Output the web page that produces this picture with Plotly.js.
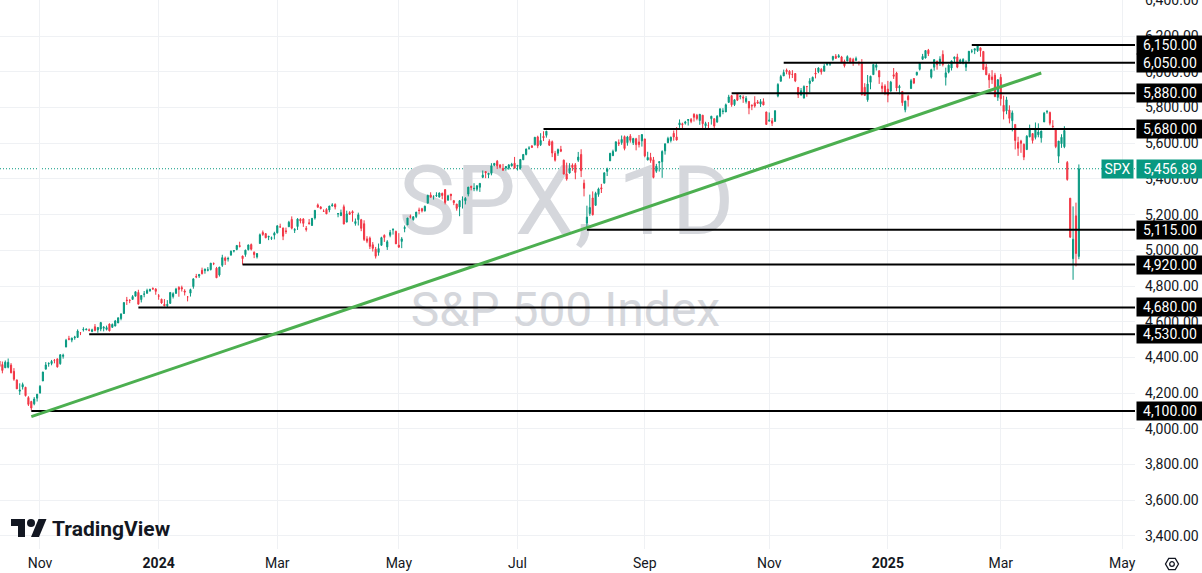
<!DOCTYPE html>
<html><head><meta charset="utf-8">
<script src="https://cdn.plot.ly/plotly-3.0.1.min.js"></script>
<style>html,body{margin:0;padding:0;background:#fff;overflow:hidden}#chart{width:1202px;height:573px}</style>
</head><body><div id="chart"></div>
<script>
// Daily SPX candles [open, high, low, close], one array per month (trading days in order)
const oct2023 = [[4366,4378,4345,4376],[4380,4386,4325,4349],[4360,4377,4311,4327],[4342,4383,4342,4373],[4345,4394,4339,4373],[4357,4368,4311,4314],[4322,4340,4269,4278],[4274,4276,4223,4224],[4211,4255,4190,4217],[4235,4259,4220,4248],[4233,4235,4181,4186],[4175,4183,4128,4137],[4153,4157,4104,4117],[4140,4178,4132,4167],[4172,4194,4153,4194]];
const nov2023 = [[4201,4245,4197,4238],[4268,4320,4268,4318],[4334,4374,4334,4358],[4364,4373,4348,4366],[4366,4386,4356,4378],[4384,4391,4367,4383],[4392,4393,4343,4347],[4365,4418,4359,4415],[4406,4421,4393,4412],[4458,4504,4458,4496],[4505,4521,4496,4502],[4497,4511,4485,4508],[4510,4521,4499,4514],[4512,4557,4510,4548],[4538,4542,4525,4538],[4554,4569,4545,4557],[4555,4560,4552,4559],[4555,4562,4546,4551],[4545,4561,4541,4555],[4572,4587,4546,4551],[4554,4569,4538,4568]];
const dec2023 = [[4559,4599,4547,4595],[4564,4575,4546,4569],[4557,4578,4551,4567],[4587,4590,4546,4549],[4569,4590,4565,4585],[4576,4610,4574,4604],[4593,4623,4593,4622],[4618,4644,4608,4644],[4646,4709,4644,4707],[4721,4739,4694,4719],[4720,4726,4704,4719],[4725,4749,4725,4741],[4743,4768,4743,4768],[4764,4779,4698,4698],[4724,4748,4708,4747],[4754,4772,4737,4755],[4759,4785,4758,4775],[4773,4785,4768,4781],[4786,4793,4780,4783],[4783,4788,4751,4770]];
const jan2024 = [[4745,4755,4723,4743],[4726,4729,4700,4705],[4698,4727,4687,4689],[4690,4721,4682,4697],[4703,4764,4700,4764],[4741,4765,4730,4757],[4759,4790,4756,4783],[4792,4799,4740,4781],[4791,4802,4769,4784],[4772,4782,4747,4766],[4739,4744,4714,4739],[4760,4785,4741,4780],[4797,4842,4785,4840],[4853,4868,4844,4851],[4856,4866,4845,4865],[4888,4903,4865,4869],[4886,4898,4869,4894],[4888,4906,4882,4891],[4892,4929,4887,4928],[4926,4932,4917,4925],[4900,4907,4845,4846]];
const feb2024 = [[4862,4907,4853,4906],[4916,4975,4907,4959],[4957,4965,4918,4943],[4951,4964,4937,4954],[4974,4999,4969,4995],[4996,5000,4988,4998],[5005,5030,5000,5027],[5026,5048,5016,5022],[4968,4970,4920,4953],[4976,5003,4964,5001],[5004,5032,4999,5030],[5032,5038,4999,5006],[4989,4994,4956,4976],[4963,4984,4954,4982],[5038,5094,5038,5087],[5100,5111,5081,5089],[5093,5097,5068,5070],[5074,5081,5057,5078],[5067,5077,5058,5070],[5085,5104,5061,5096]];
const mar2024 = [[5098,5140,5094,5137],[5131,5149,5127,5131],[5125,5127,5057,5079],[5109,5127,5092,5105],[5132,5165,5131,5157],[5173,5190,5117,5124],[5112,5124,5097,5117],[5133,5180,5114,5175],[5174,5180,5151,5165],[5175,5180,5131,5151],[5123,5136,5105,5117],[5154,5175,5145,5149],[5139,5180,5138,5179],[5181,5225,5172,5224],[5254,5262,5240,5241],[5243,5247,5229,5234],[5219,5229,5216,5218],[5229,5236,5203,5204],[5226,5249,5213,5248],[5249,5264,5245,5254]];
const apr2024 = [[5257,5263,5229,5243],[5204,5208,5185,5205],[5194,5228,5194,5211],[5244,5256,5146,5147],[5158,5222,5157,5204],[5211,5219,5198,5202],[5217,5224,5160,5209],[5150,5178,5138,5161],[5172,5211,5139,5199],[5171,5176,5107,5123],[5149,5168,5052,5061],[5064,5079,5040,5051],[5068,5077,5007,5022],[5031,5046,4993,5011],[5006,5019,4954,4967],[4988,5038,4970,5010],[5028,5076,5027,5071],[5084,5089,5047,5072],[5019,5057,5002,5048],[5084,5114,5073,5100],[5114,5124,5088,5116],[5106,5110,5036,5036]];
const may2024 = [[5029,5096,5013,5018],[5050,5074,5012,5064],[5122,5139,5101,5128],[5142,5181,5142,5181],[5188,5200,5178,5187],[5172,5191,5166,5188],[5189,5215,5180,5214],[5226,5239,5202,5223],[5233,5238,5212,5221],[5221,5250,5217,5247],[5264,5311,5263,5308],[5310,5325,5297,5297],[5303,5305,5284,5303],[5305,5325,5299,5308],[5298,5324,5296,5321],[5319,5323,5286,5307],[5340,5341,5257,5268],[5281,5311,5278,5305],[5315,5315,5280,5306],[5278,5282,5253,5267],[5259,5260,5222,5235],[5243,5281,5191,5278]];
const jun2024 = [[5283,5302,5234,5283],[5278,5298,5257,5291],[5315,5355,5302,5354],[5358,5362,5336,5353],[5344,5376,5331,5347],[5342,5365,5331,5361],[5353,5375,5327,5375],[5409,5447,5404,5421],[5441,5441,5404,5434],[5424,5432,5404,5432],[5431,5488,5420,5473],[5477,5487,5471,5487],[5499,5506,5455,5473],[5479,5479,5458,5465],[5459,5484,5447,5448],[5461,5472,5446,5469],[5460,5483,5451,5478],[5473,5490,5469,5483],[5488,5523,5460,5460]];
const jul2024 = [[5471,5479,5447,5475],[5461,5510,5452,5509],[5507,5539,5507,5537],[5537,5570,5532,5567],[5572,5583,5563,5572],[5584,5590,5574,5577],[5591,5635,5587,5633],[5635,5642,5572,5585],[5591,5656,5584,5615],[5638,5667,5612,5631],[5644,5669,5631,5667],[5611,5622,5584,5589],[5608,5615,5522,5545],[5543,5557,5497,5505],[5544,5570,5529,5564],[5565,5585,5550,5555],[5505,5508,5425,5427],[5428,5491,5390,5399],[5433,5488,5430,5459],[5477,5487,5445,5464],[5479,5489,5398,5436],[5505,5551,5495,5522]];
const aug2024 = [[5537,5566,5410,5446],[5376,5396,5302,5347],[5152,5250,5120,5186],[5206,5312,5193,5240],[5293,5330,5195,5199],[5252,5328,5250,5319],[5313,5351,5300,5344],[5350,5372,5321,5344],[5376,5436,5376,5434],[5442,5463,5416,5455],[5501,5546,5501,5543],[5530,5564,5528,5554],[5557,5608,5551,5608],[5603,5621,5584,5597],[5603,5643,5591,5621],[5637,5643,5560,5570],[5603,5641,5586,5635],[5639,5651,5603,5616],[5603,5630,5590,5626],[5625,5630,5560,5592],[5607,5646,5576,5592],[5613,5651,5581,5648]];
const sep2024 = [[5624,5624,5521,5529],[5506,5552,5504,5520],[5520,5546,5490,5503],[5507,5523,5403,5408],[5443,5484,5434,5471],[5491,5497,5441,5496],[5496,5560,5406,5554],[5557,5600,5536,5596],[5603,5636,5600,5626],[5615,5637,5604,5633],[5655,5671,5614,5635],[5635,5690,5615,5618],[5702,5733,5686,5714],[5709,5715,5674,5703],[5712,5725,5704,5718],[5728,5735,5699,5732],[5733,5741,5712,5722],[5762,5767,5721,5745],[5756,5764,5728,5738],[5727,5763,5703,5762]];
const oct2024 = [[5757,5757,5681,5709],[5698,5720,5679,5710],[5699,5718,5675,5699],[5737,5753,5704,5751],[5737,5739,5683,5696],[5719,5757,5714,5751],[5751,5796,5745,5792],[5778,5796,5762,5780],[5775,5822,5775,5815],[5829,5871,5825,5859],[5866,5870,5804,5815],[5816,5846,5808,5843],[5875,5879,5836,5841],[5860,5866,5846,5865],[5858,5868,5826,5853],[5833,5864,5822,5851],[5834,5835,5762,5797],[5813,5817,5785,5809],[5826,5863,5799,5808],[5831,5842,5823,5824],[5819,5847,5803,5833],[5833,5851,5813,5814],[5775,5776,5703,5705]];
const nov2024 = [[5723,5772,5723,5729],[5725,5741,5696,5712],[5722,5783,5722,5782],[5864,5936,5857,5929],[5947,5983,5945,5973],[5977,6012,5976,5996],[6009,6018,5986,6001],[6003,6009,5962,5984],[5986,6009,5965,5985],[5990,5993,5942,5949],[5912,5915,5853,5871],[5870,5909,5866,5894],[5853,5924,5850,5917],[5918,5920,5860,5917],[5934,5964,5885,5949],[5948,5973,5944,5969],[5993,6020,5963,5987],[6000,6025,5992,6021],[6014,6020,5984,5999],[6003,6044,6003,6032]];
const dec2024 = [[6040,6053,6034,6047],[6042,6052,6033,6050],[6069,6089,6061,6086],[6087,6099,6075,6075],[6082,6099,6080,6090],[6083,6089,6048,6053],[6058,6068,6024,6034],[6060,6092,6060,6085],[6075,6079,6050,6051],[6069,6078,6033,6051],[6064,6085,6059,6074],[6053,6058,6035,6051],[6047,6071,5867,5872],[5913,5936,5866,5867],[5843,5982,5832,5931],[5941,5978,5902,5975],[5984,6041,5982,6041],[6025,6050,6007,6037],[6006,6006,5932,5971],[5920,5941,5880,5907],[5920,5930,5869,5882]];
const jan2025 = [[5903,5949,5829,5869],[5892,5949,5888,5942],[5983,6021,5960,5975],[5993,6000,5891,5909],[5910,5927,5874,5918],[5890,5890,5809,5827],[5787,5837,5773,5836],[5862,5871,5805,5843],[5906,5960,5906,5950],[5962,5965,5931,5937],[5983,6000,5978,5997],[6014,6052,6007,6049],[6070,6100,6066,6086],[6077,6119,6075,6119],[6121,6128,6088,6101],[5970,6017,5962,6012],[6026,6070,6006,6068],[6058,6063,6012,6039],[6050,6087,6033,6071],[6097,6120,6030,6041]];
const feb2025 = [[5969,6023,5923,5994],[5998,6042,5991,6037],[6021,6062,6007,6061],[6073,6084,6051,6083],[6083,6101,6020,6026],[6048,6073,6048,6066],[6049,6076,6042,6069],[6026,6064,6004,6052],[6060,6116,6052,6115],[6115,6127,6104,6115],[6121,6129,6099,6129],[6118,6147,6111,6144],[6134,6134,6084,6118],[6114,6115,6009,6013],[6027,6044,5983,5983],[5982,5992,5908,5955],[5971,6009,5932,5956],[5981,5994,5858,5861],[5857,5959,5837,5955]];
const mar2025 = [[5969,5987,5810,5849],[5812,5866,5733,5778],[5781,5860,5762,5843],[5786,5812,5711,5739],[5726,5783,5666,5770],[5705,5705,5565,5615],[5604,5636,5529,5572],[5612,5619,5546,5599],[5594,5598,5505,5522],[5564,5645,5564,5639],[5636,5704,5633,5675],[5654,5655,5598,5615],[5632,5716,5621,5675],[5647,5711,5633,5663],[5630,5670,5603,5668],[5719,5775,5719,5768],[5775,5786,5765,5777],[5772,5777,5700,5712],[5696,5729,5678,5693],[5679,5679,5572,5581],[5527,5612,5489,5612]];
const apr2025 = [[5597,5650,5574,5633],[5580,5695,5572,5671],[5492,5500,5390,5397],[5292,5292,5069,5074],[4953,5246,4835,5062],[5193,5267,4910,4982],[4966,5481,4950,5456.89]];

const months = [oct2023,nov2023,dec2023,jan2024,feb2024,mar2024,apr2024,may2024,jun2024,jul2024,aug2024,sep2024,oct2024,nov2024,dec2024,jan2025,feb2025,mar2025,apr2025];
const firstSession = '2023-10-11';
const holidays = ['2023-11-23','2023-12-25','2024-01-01','2024-01-15','2024-02-19','2024-03-29','2024-05-27','2024-06-19','2024-07-04','2024-09-02','2024-11-28','2024-12-25','2025-01-01','2025-01-09','2025-01-20','2025-02-17','2025-04-18'];

const tickMonths = ['2023-11','2024-01','2024-03','2024-05','2024-07','2024-09','2024-11','2025-01','2025-03','2025-05'];
const tickLabels = ['Nov','<b>2024</b>','Mar','May','Jul','Sep','Nov','<b>2025</b>','Mar','May'];

const levelPrices = [6150,6050,5880,5680,5115,4920,4680,4530,4100];
const levelFrom = ['2025-02-14','2024-11-08','2024-10-15','2024-07-15','2024-08-05','2024-02-13','2023-12-20','2023-11-27','2023-10-27'];
const trendDates = ['2023-10-27','2025-03-21'];
const trendPrices = [4068,5993];

const symbol = 'SPX';
const lastPrice = 5456.89;
const watermark = ['SPX, 1D','S&P 500 Index'];

// ---- build series ----
const rows = [].concat(...months);
const open = rows.map(r=>r[0]), high = rows.map(r=>r[1]), low = rows.map(r=>r[2]), close = rows.map(r=>r[3]);

function sessions(start, n){
  const out=[]; const d=new Date(start+'T00:00:00Z');
  while(out.length<n){
    const dow=d.getUTCDay(); const s=d.toISOString().slice(0,10);
    if(dow!==0 && dow!==6 && !holidays.includes(s)) out.push(s);
    d.setUTCDate(d.getUTCDate()+1);
  }
  return out;
}
const days = sessions(firstSession, rows.length + 30);
const idx = s => days.indexOf(s);
const xs = rows.map((r,i)=>i);
const tickvals = tickMonths.map(m => days.findIndex(d=>d.startsWith(m)));

// ---- geometry ----
const W=1202, H=573, mR=67, mB=24, plotW=W-mR, plotH=H-mB;
const xr=[1.18, 393.4], yr=[3327, 6402];
const px2x = px => xr[0] + px/plotW*(xr[1]-xr[0]);
const py2y = py => yr[1] - py/plotH*(yr[1]-yr[0]);
const pp = (px,py) => [(px/plotW).toFixed(5), ((plotH-py)/plotH).toFixed(5)];

const green='#089981', red='#F23645', ink='#131722';
const font='Roboto, "Liberation Sans", sans-serif';
const fmt = v => v.toLocaleString('en-US',{minimumFractionDigits:2, maximumFractionDigits:2});

const traces = [
  {type:'scatter', mode:'text', x:[px2x(566.5), px2x(565.5)], y:[py2y(210), py2y(314)],
   text:watermark, textposition:'middle center', hoverinfo:'skip', showlegend:false,
   textfont:{family:font, size:[96,48], color:'#d5d7dc'}, xaxis:'x', yaxis:'y'},
  {type:'candlestick', x:xs, open, high, low, close, xaxis:'x', yaxis:'y2',
   increasing:{line:{color:green, width:1}, fillcolor:green},
   decreasing:{line:{color:red, width:1}, fillcolor:red},
   whiskerwidth:0, hoverinfo:'skip', showlegend:false}
];

const shapes = [];
shapes.push({type:'line', xref:'x', yref:'y2', x0:xr[0], x1:xr[1], y0:lastPrice, y1:lastPrice,
  line:{color:green, width:1, dash:'1px,2px'}, layer:'below'});
levelPrices.forEach((p,i)=>{
  shapes.push({type:'line', xref:'x', yref:'y2', x0:idx(levelFrom[i]), x1:xr[1], y0:p, y1:p,
    line:{color:'#000', width:2}, layer:'above'});
});
shapes.push({type:'line', xref:'x', yref:'y2', x0:idx(trendDates[0]), y0:trendPrices[0], x1:idx(trendDates[1]), y1:trendPrices[1],
  line:{color:'#4caf50', width:3}, layer:'above'});

// TradingView logo
function pathPx(pts){ return 'M' + pts.map(p=>pp(p[0],p[1]).join(',')).join(' L') + ' Z'; }
shapes.push({type:'path', xref:'paper', yref:'paper', path:pathPx([[25,537],[18,537],[18,526],[11,526],[11,519],[25,519]]), fillcolor:ink, line:{width:0}});
shapes.push({type:'path', xref:'paper', yref:'paper', path:pathPx([[39,537],[31,537],[38.5,519],[46.5,519]]), fillcolor:ink, line:{width:0}});
{ const a=pp(27,519), b=pp(35,527);
  shapes.push({type:'circle', xref:'paper', yref:'paper', x0:a[0], y0:b[1], x1:b[0], y1:a[1], fillcolor:ink, line:{width:0}}); }
// settings icon (bottom right)
{ const cx=1172, cy=564, r=6.5; const pts=[];
  for(let k=0;k<6;k++){ const a=Math.PI/3*k; pts.push([cx+r*Math.cos(a), cy+r*Math.sin(a)]); }
  shapes.push({type:'path', xref:'paper', yref:'paper', path:pathPx(pts), line:{color:ink, width:1.3}});
  const a=pp(cx-2.3,cy-2.3), b=pp(cx+2.3,cy+2.3);
  shapes.push({type:'circle', xref:'paper', yref:'paper', x0:a[0], y0:b[1], x1:b[0], y1:a[1], line:{color:ink, width:1.3}});
}

const annotations = [];
levelPrices.forEach(p=>{
  annotations.push({xref:'paper', yref:'y2', x:1, y:p, xanchor:'left', yanchor:'middle', xshift:1,
    text:fmt(p), showarrow:false, bgcolor:'#000', width:62, height:14, borderpad:2, align:'center',
    font:{family:font, size:14, color:'#fff'}});
});
annotations.push({xref:'paper', yref:'y2', x:1, y:lastPrice, xanchor:'right', yanchor:'middle', xshift:-1,
  text:symbol, showarrow:false, bgcolor:green, width:27, height:14, borderpad:2, align:'center',
  font:{family:font, size:14, color:'#fff'}});
annotations.push({xref:'paper', yref:'y2', x:1, y:lastPrice, xanchor:'left', yanchor:'middle', xshift:1,
  text:fmt(lastPrice), showarrow:false, bgcolor:green, width:62, height:14, borderpad:2, align:'center',
  font:{family:font, size:14, color:'#fff'}});
annotations.push({xref:'paper', yref:'paper', x:50/plotW, y:(plotH-529)/plotH, xanchor:'left', yanchor:'middle',
  text:'TradingView', showarrow:false, font:{family:font, size:21, color:ink, weight:700}});

const layout = {
  width:W, height:H, margin:{l:0, r:mR, t:0, b:mB, pad:0},
  paper_bgcolor:'#fff', plot_bgcolor:'#fff', showlegend:false,
  font:{family:font, size:14, color:ink},
  xaxis:{type:'linear', range:xr, tickvals, ticktext:tickLabels, showgrid:true, gridcolor:'#eff1f4', gridwidth:1,
    zeroline:false, showline:false, ticks:'', ticklabelstandoff:4, ticklabeloverflow:'allow', rangeslider:{visible:false}, fixedrange:true,
    tickfont:{family:font, size:14, color:ink}},
  yaxis:{range:yr, side:'right', dtick:200, tick0:0, tickformat:',.2f', showgrid:true, gridcolor:'#eff1f4', gridwidth:1,
    zeroline:false, showline:false, ticks:'', ticklabelstandoff:9, ticklabeloverflow:'allow', fixedrange:true, tickfont:{family:font, size:14, color:ink}},
  yaxis2:{range:yr, overlaying:'y', side:'right', visible:false, showgrid:false, zeroline:false, fixedrange:true},
  boxgap:0.45,
  shapes, annotations
};

Plotly.newPlot('chart', traces, layout, {displayModeBar:false, staticPlot:true});
</script></body></html>
